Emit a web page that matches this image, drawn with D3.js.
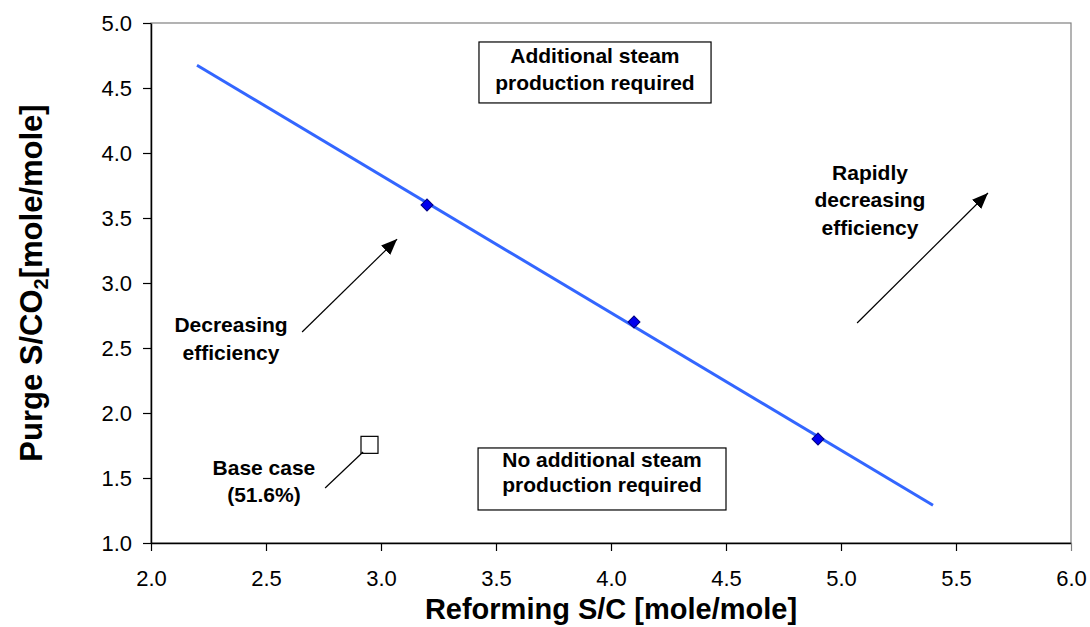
<!DOCTYPE html>
<html>
<head>
<meta charset="utf-8">
<script src="https://cdn.jsdelivr.net/npm/d3@7/dist/d3.min.js"></script>
<style>
  body { margin: 0; background: #fff; }
  text { font-family: "Liberation Sans", Arial, sans-serif; }
</style>
</head>
<body>
<div id="chart"></div>
<script>
// data
var pointX = [3.2, 4.1, 4.9];
var pointY = [3.6, 2.7, 1.8];
var trendX = [2.2, 5.4];
var trendY = [4.675, 1.29];
var baseX = [2.95];
var baseY = [1.755];
var xTicks = [2.0, 2.5, 3.0, 3.5, 4.0, 4.5, 5.0, 5.5, 6.0];
var yTicks = [1.0, 1.5, 2.0, 2.5, 3.0, 3.5, 4.0, 4.5, 5.0];

var margin = { left: 151, right: 19, top: 23, bottom: 84 };
var W = 1090, H = 627;
var width = W - margin.left - margin.right,
    height = H - margin.top - margin.bottom;

var svg = d3.select("#chart").append("svg")
    .attr("width", W).attr("height", H);

var defs = svg.append("defs");
defs.append("marker")
    .attr("id", "arrow")
    .attr("markerUnits", "userSpaceOnUse")
    .attr("markerWidth", 18).attr("markerHeight", 14)
    .attr("refX", 16).attr("refY", 6.5)
    .attr("orient", "auto")
  .append("path")
    .attr("d", "M0,0 L16,6.5 L0,13 Z")
    .attr("fill", "#000");

var g = svg.append("g")
    .attr("transform", "translate(" + margin.left + "," + margin.top + ")");

var x = d3.scaleLinear().domain([2, 6]).range([0, width]);
var y = d3.scaleLinear().domain([1, 5]).range([height, 0]);

// plot area border (grey)
g.append("rect")
    .attr("width", width).attr("height", height)
    .attr("fill", "none").attr("stroke", "#808080").attr("stroke-width", 1.2);

// axes
var fmt = d3.format(".1f");
var yAxis = g.append("g")
    .call(d3.axisLeft(y).tickValues(yTicks).tickFormat(fmt)
        .tickSize(8).tickPadding(11).tickSizeOuter(0));
var xAxis = g.append("g")
    .attr("transform", "translate(0," + height + ")")
    .call(d3.axisBottom(x).tickValues(xTicks).tickFormat(fmt)
        .tickSize(8).tickPadding(19).tickSizeOuter(0));

[xAxis, yAxis].forEach(function(a){
    a.select(".domain").attr("stroke", "#000").attr("stroke-width", 1.5);
    a.selectAll(".tick line").attr("stroke", "#000").attr("stroke-width", 1.2);
    a.selectAll(".tick text")
        .attr("font-size", "22px").attr("fill", "#000")
        .style("font-family", "'Liberation Sans', Arial, sans-serif");
});
xAxis.selectAll(".tick").filter(function(d){ return d === 6; }).select("line").attr("stroke", "#808080");

// axis titles
svg.append("text")
    .attr("x", margin.left + width / 2)
    .attr("y", 619)
    .attr("text-anchor", "middle")
    .attr("font-size", "29px").attr("font-weight", "bold")
    .text("Reforming S/C [mole/mole]");

var yt = svg.append("text")
    .attr("transform", "translate(42," + (margin.top + height / 2) + ") rotate(-90)")
    .attr("text-anchor", "middle")
    .attr("font-size", "31px").attr("font-weight", "bold");
yt.append("tspan").text("Purge S/CO");
yt.append("tspan").attr("font-size", "20px").attr("dy", "6").text("2");
yt.append("tspan").attr("dy", "-6").text("[mole/mole]");

// trend line
var trend = trendX.map(function(d, i){ return [d, trendY[i]]; });
g.append("path")
    .datum(trend)
    .attr("fill", "none")
    .attr("stroke", "#3366ff")
    .attr("stroke-width", 3)
    .attr("d", d3.line().x(function(d){ return x(d[0]); }).y(function(d){ return y(d[1]); }));

// data points (diamonds)
var pts = pointX.map(function(d, i){ return [d, pointY[i]]; });
g.selectAll(".pt").data(pts).enter().append("path")
    .attr("class", "pt")
    .attr("transform", function(d){ return "translate(" + x(d[0]) + "," + y(d[1]) + ") rotate(45)"; })
    .attr("d", d3.symbol().type(d3.symbolSquare).size(72))
    .attr("fill", "#0000ee")
    .attr("stroke", "#000080")
    .attr("stroke-width", 1);

// base case square
var base = baseX.map(function(d, i){ return [d, baseY[i]]; });
g.selectAll(".base").data(base).enter().append("rect")
    .attr("class", "base")
    .attr("x", function(d){ return x(d[0]) - 8.5; })
    .attr("y", function(d){ return y(d[1]) - 8.5; })
    .attr("width", 17).attr("height", 17)
    .attr("fill", "#fff").attr("stroke", "#000").attr("stroke-width", 1.2);

// annotations (placed in data units)
function lines(cx, ys, arr){
    arr.forEach(function(t, i){
        g.append("text")
            .attr("x", x(cx)).attr("y", y(ys[i]))
            .attr("text-anchor", "middle")
            .attr("font-size", "21px").attr("font-weight", "bold")
            .text(t);
    });
}
function box(x0, x1, y0, y1){
    g.append("rect")
        .attr("x", x(x0)).attr("y", y(y0))
        .attr("width", x(x1) - x(x0)).attr("height", y(y1) - y(y0))
        .attr("fill", "#fff").attr("stroke", "#000").attr("stroke-width", 1.2);
}
function seg(x0, y0, x1, y1, arrow){
    var l = g.append("line")
        .attr("x1", x(x0)).attr("y1", y(y0))
        .attr("x2", x(x1)).attr("y2", y(y1))
        .attr("stroke", "#000").attr("stroke-width", 1.2);
    if (arrow) l.attr("marker-end", "url(#arrow)");
}

box(3.426, 4.435, 4.854, 4.385);
lines(3.93, [4.69, 4.485], ["Additional steam", "production required"]);

box(3.422, 4.5, 1.731, 1.254);
lines(3.961, [1.585, 1.39], ["No additional steam", "production required"]);

lines(2.348, [2.623, 2.408], ["Decreasing", "efficiency"]);
seg(2.657, 2.623, 3.07, 3.338, true);

lines(5.126, [3.792, 3.585, 3.369], ["Rapidly", "decreasing", "efficiency"]);
seg(5.07, 2.692, 5.639, 3.692, true);

lines(2.491, [1.523, 1.315], ["Base case", "(51.6%)"]);
seg(2.922, 1.7, 2.757, 1.423, false);
</script>
</body>
</html>
